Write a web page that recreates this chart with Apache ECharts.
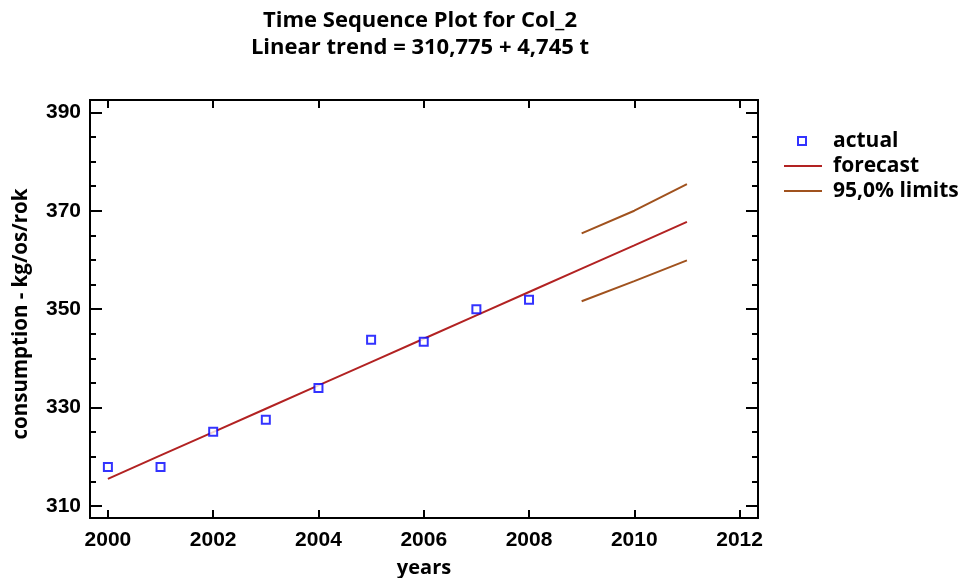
<!DOCTYPE html>
<html><head><meta charset="utf-8">
<script src="https://cdn.jsdelivr.net/npm/echarts@6/dist/echarts.min.js"></script>
<style>html,body{margin:0;padding:0;background:#fff}#c{width:960px;height:578px}</style>
</head><body><div id="c"></div>
<script>
var years = [2000,2001,2002,2003,2004,2005,2006,2007,2008];
var actual = [317.9,317.9,325.1,327.5,334.0,343.8,343.4,350.0,351.9];
var forecastYears = [2000,2001,2002,2003,2004,2005,2006,2007,2008,2009,2010,2011];
var forecast = [315.52,320.27,325.01,329.76,334.50,339.25,343.99,348.74,353.48,358.23,362.97,367.72];
var limitYears = [2009,2010,2011];
var upper = [365.4,370.0,375.4];
var lower = [351.6,355.7,359.9];
var xTicks = [2000,2002,2004,2006,2008,2010,2012];
var yTicks = [310,330,350,370,390];
var yMinor = [310,315,320,325,330,335,340,345,350,355,360,365,370,375,380,385,390];

function pairs(xs, ys){ return xs.map(function(x,i){return [x, ys[i]];}); }

var font = '"Liberation Sans", Arial, sans-serif';
var wfont = '"Open Sans", "Liberation Sans", sans-serif';
var XMIN = 1999.66, XMAX = 2012.35, YMIN = 307.56, YMAX = 392.5;
var axisLine = {show:true, lineStyle:{color:'#000', width:2}};

function xAx(pos, labels){
  return {type:'value', position:pos, min:XMIN, max:XMAX,
    axisLine:axisLine, splitLine:{show:false},
    axisTick:{show:true, inside:true, length:8, lineStyle:{color:'#000',width:2}, customValues:xTicks},
    axisLabel:{show:labels, customValues:xTicks, margin:12, color:'#000', fontFamily:font, fontWeight:'bold', fontSize:21,
      formatter:function(v){return String(v);}},
    name: labels ? 'years' : '', nameLocation:'middle', nameGap:40,
    nameTextStyle:{color:'#000', fontFamily:wfont, fontWeight:'bold', fontSize:20}};
}
function yAx(pos, vals, len, labels){
  return {type:'value', position:pos, min:YMIN, max:YMAX,
    axisLine:axisLine, splitLine:{show:false},
    axisTick:{show:true, inside:true, length:len, lineStyle:{color:'#000',width:2}, customValues:vals},
    axisLabel:{show:labels, customValues:yTicks, margin:9, color:'#000', fontFamily:font, fontWeight:'bold', fontSize:21,
      formatter:function(v){return String(v);}},
    name: labels ? 'consumption - kg/os/rok' : '', nameLocation:'middle', nameGap:58,
    nameTextStyle:{color:'#000', fontFamily:wfont, fontWeight:'bold', fontSize:20.5, padding:[0,10,0,0]}};
}

var chart = echarts.init(document.getElementById('c'), null, {renderer:'canvas'});
chart.setOption({
  backgroundColor:'#fff',
  animation:false,
  title:[
    {text:'Time Sequence Plot for Col_2', left:415, top:5, textAlign:'center',
     textStyle:{fontFamily:wfont, fontWeight:'bold', fontSize:22, color:'#000'}},
    {text:'Linear trend = 310,775 + 4,745 t', left:415, top:32, textAlign:'center',
     textStyle:{fontFamily:wfont, fontWeight:'bold', fontSize:22, color:'#000'}}
  ],
  grid:{left:90, top:100, right:202, bottom:60, outerBoundsMode:'none'},
  legend:[
    {data:['actual'], orient:'vertical', left:797, top:128, padding:0, itemWidth:8, itemHeight:8,
     itemGap:10, textStyle:{fontFamily:wfont, fontWeight:'bold', fontSize:21, color:'#000', lineHeight:22, padding:[4,0,0,22]}},
    {data:[{name:'forecast', icon:'rect'},{name:'95,0% limits', icon:'rect'}], orient:'vertical', left:784, top:154,
     padding:0, itemWidth:38, itemHeight:2, itemGap:1,
     textStyle:{fontFamily:wfont, fontWeight:'bold', fontSize:21, color:'#000', lineHeight:22, padding:[2,0,0,6]}}
  ],
  xAxis:[xAx('bottom', true), xAx('top', false)],
  yAxis:[yAx('left', yTicks, 12, true), yAx('left', yMinor, 6, false),
         yAx('right', yTicks, 12, false), yAx('right', yMinor, 6, false)],
  series:[
    {name:'forecast', type:'line', data:pairs(forecastYears, forecast), symbol:'none',
     lineStyle:{color:'#b22222', width:2}, itemStyle:{color:'#b22222'}, z:2},
    {name:'95,0% limits', type:'line', data:pairs(limitYears, upper), symbol:'none',
     lineStyle:{color:'#a0521e', width:2}, itemStyle:{color:'#a0521e'}, z:2},
    {name:'95,0% limits', type:'line', data:pairs(limitYears, lower), symbol:'none',
     lineStyle:{color:'#a0521e', width:2}, itemStyle:{color:'#a0521e'}, z:2},
    {name:'actual', type:'scatter', data:pairs(years, actual), symbol:'rect', symbolSize:8,
     itemStyle:{color:'#fff', borderColor:'#0000ff', borderWidth:2}, z:3}
  ]
});
</script></body></html>
